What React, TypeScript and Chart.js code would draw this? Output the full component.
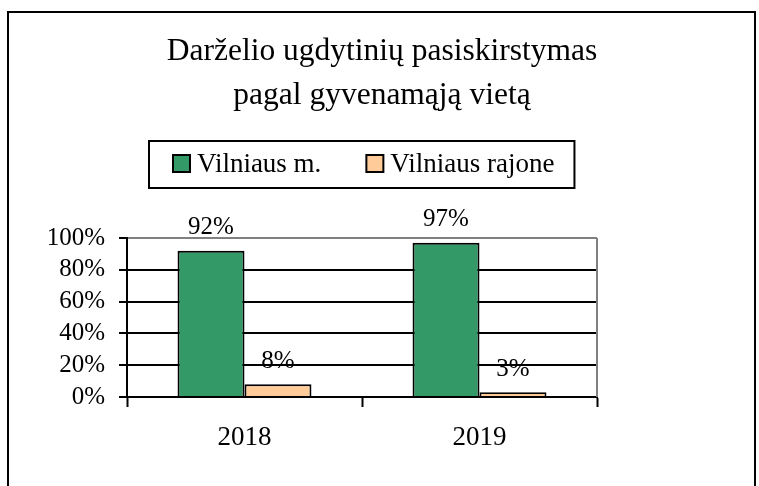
import React, { useEffect, useRef } from "react";
import { Chart, registerables } from "chart.js";

Chart.register(...registerables);

const categories = ["2018", "2019"];
const seriesNames = ["Vilniaus m.", "Vilniaus rajone"];
const vilniausM = [92, 97];
const vilniausRajone = [8, 3];
const titleLines = ["Darželio ugdytinių pasiskirstymas", "pagal gyvenamąją vietą"];
const seriesColors = ["#339966", "#FFCC99"];

const FONT = "'Liberation Serif', 'Times New Roman', serif";

const framePlugin = {
  id: "frame",
  beforeDraw(chart: any) {
    const ctx = chart.ctx;
    ctx.save();
    ctx.fillStyle = "#ffffff";
    ctx.fillRect(0, 0, chart.width, chart.height);
    ctx.strokeStyle = "#000000";
    ctx.lineWidth = 2;
    ctx.strokeRect(8, 12, 747, 600);
    ctx.restore();
  },
};

const titlePlugin = {
  id: "customTitle",
  afterDraw(chart: any) {
    const ctx = chart.ctx;
    ctx.save();
    ctx.fillStyle = "#000";
    ctx.font = `31.5px ${FONT}`;
    ctx.textAlign = "center";
    ctx.textBaseline = "middle";
    titleLines.forEach((line, i) => {
      ctx.fillText(line, 382, 52 + i * 44);
    });
    ctx.restore();
  },
};

const legendPlugin = {
  id: "boxLegend",
  afterDraw(chart: any) {
    const ctx = chart.ctx;
    const area = chart.chartArea;
    ctx.save();
    ctx.font = `27px ${FONT}`;
    const box = 17;
    const gapText = 7;
    const gapItems = 45;
    const padL = 24;
    const padR = 20;
    const items = chart.data.datasets.map((d: any) => ({
      label: d.label,
      color: d.backgroundColor,
      w: ctx.measureText(d.label).width,
    }));
    let inner = 0;
    items.forEach((it: any, i: number) => {
      inner += box + gapText + it.w + (i < items.length - 1 ? gapItems : 0);
    });
    const total = padL + inner + padR;
    const cx = (area.left + area.right) / 2;
    const left = Math.round(cx - total / 2);
    const top = 141;
    const h = 47;
    ctx.lineWidth = 2;
    ctx.strokeStyle = "#000";
    ctx.strokeRect(left, top, total, h);
    let x = left + padL;
    const cy = top + h / 2;
    items.forEach((it: any) => {
      ctx.fillStyle = it.color;
      ctx.fillRect(x, cy - box / 2 - 1, box, box);
      ctx.strokeRect(x, cy - box / 2 - 1, box, box);
      ctx.fillStyle = "#000";
      ctx.textAlign = "left";
      ctx.textBaseline = "middle";
      ctx.fillText(it.label, x + box + gapText, cy);
      x += box + gapText + it.w + gapItems;
    });
    ctx.restore();
  },
};

const plotBorderPlugin = {
  id: "plotBorder",
  beforeDatasetsDraw(chart: any) {
    const ctx = chart.ctx;
    const a = chart.chartArea;
    ctx.save();
    ctx.strokeStyle = "#808080";
    ctx.lineWidth = 2;
    ctx.beginPath();
    ctx.moveTo(a.right, a.top);
    ctx.lineTo(a.right, a.bottom);
    ctx.stroke();
    ctx.restore();
  },
};

const dataLabelPlugin = {
  id: "valueLabels",
  afterDatasetsDraw(chart: any) {
    const ctx = chart.ctx;
    ctx.save();
    ctx.font = `25px ${FONT}`;
    ctx.fillStyle = "#000";
    ctx.textAlign = "center";
    ctx.textBaseline = "middle";
    chart.data.datasets.forEach((ds: any, di: number) => {
      const meta = chart.getDatasetMeta(di);
      meta.data.forEach((el: any, i: number) => {
        ctx.fillText(`${ds.data[i]}%`, el.x, el.y - 23);
      });
    });
    ctx.restore();
  },
};

export default function App() {
  const ref = useRef<HTMLCanvasElement | null>(null);

  useEffect(() => {
    if (!ref.current) return;
    const chart = new Chart(ref.current, {
      type: "bar",
      data: {
        labels: categories,
        datasets: [
          {
            label: seriesNames[0],
            data: vilniausM,
            backgroundColor: seriesColors[0],
            borderColor: "#000",
            borderWidth: 2,
          },
          {
            label: seriesNames[1],
            data: vilniausRajone,
            backgroundColor: seriesColors[1],
            borderColor: "#000",
            borderWidth: 2,
          },
        ],
      },
      options: {
        animation: false,
        responsive: false,
        devicePixelRatio: 1,
        layout: { padding: { top: 238, left: 0, right: 162, bottom: 29 } },
        datasets: {
          bar: { categoryPercentage: 0.57, barPercentage: 1.0 },
        },
        plugins: {
          legend: { display: false },
          title: { display: false },
          tooltip: { enabled: false },
        },
        scales: {
          x: {
            offset: true,
            afterFit: (s: any) => {
              s.height = 60;
            },
            grid: {
              offset: true,
              drawOnChartArea: false,
              drawTicks: true,
              tickLength: 10,
              tickColor: "#000",
              tickWidth: 2,
            },
            border: { display: true, color: "#000", width: 2 },
            ticks: {
              color: "#000",
              padding: 15,
              font: { family: FONT, size: 27 },
            },
          },
          y: {
            min: 0,
            max: 100,
            afterFit: (s: any) => {
              s.width = 127;
            },
            grid: {
              color: (c: any) => (c.tick && c.tick.value === 100 ? "#808080" : "#000"),
              lineWidth: 2,
              tickLength: 8,
              tickColor: "#000",
              tickWidth: 2,
            },
            border: { display: true, color: "#000", width: 2 },
            ticks: {
              stepSize: 20,
              autoSkip: false,
              color: "#000",
              padding: 14,
              font: { family: FONT, size: 25 },
              callback: (v: any) => `${v}%`,
            },
          },
        },
      },
      plugins: [framePlugin, plotBorderPlugin, dataLabelPlugin, legendPlugin, titlePlugin],
    });
    return () => chart.destroy();
  }, []);

  return (
    <div style={{ position: "absolute", left: 0, top: 0, width: 759, height: 486 }}>
      <canvas ref={ref} width={759} height={486} style={{ display: "block" }} />
    </div>
  );
}
